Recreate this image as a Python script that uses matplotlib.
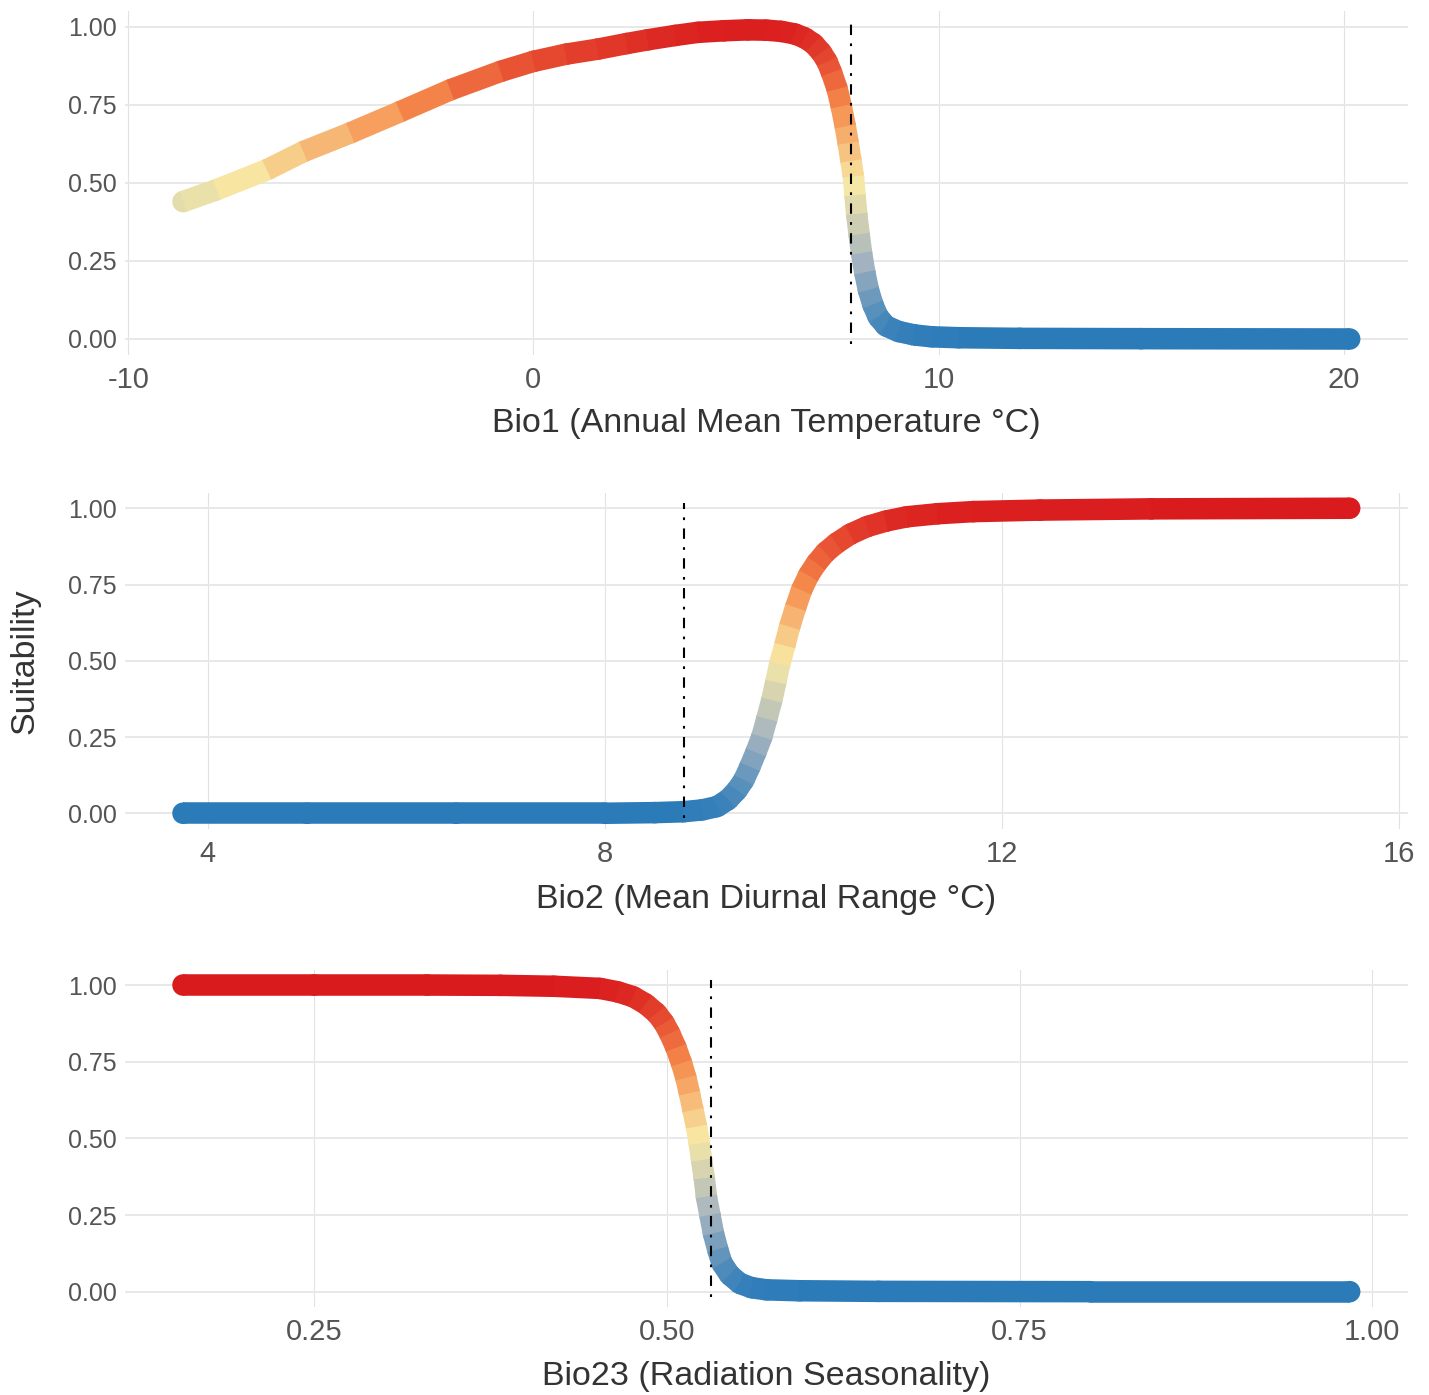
import numpy as np
import matplotlib
matplotlib.use("Agg")
import matplotlib.pyplot as plt
from matplotlib.collections import LineCollection
from matplotlib.colors import LinearSegmentedColormap

plt.rcParams['font.family'] = ['Liberation Sans', 'DejaVu Sans']

# ---------------- data ----------------
bio1_x = [-8.65, -7.82, -6.58, -5.68, -4.52, -3.29, -2.05, -0.81, 0.0, 0.8, 1.58,
          2.3, 2.82, 3.5, 4.06, 4.7, 5.30, 5.75, 6.12, 6.45, 6.70, 6.92, 7.11,
          7.25, 7.36, 7.50, 7.60, 7.70, 7.77, 7.84, 7.90, 7.94, 7.98, 8.04, 8.10,
          8.18, 8.27, 8.38, 8.51, 8.70, 9.01, 9.40, 9.83, 10.5, 12.0, 15.0, 20.15]
bio1_y = [0.44, 0.478, 0.542, 0.60, 0.66, 0.728, 0.798, 0.857, 0.889, 0.912, 0.928,
          0.946, 0.958, 0.972, 0.982, 0.987, 0.99, 0.989, 0.985, 0.977, 0.964, 0.945, 0.917,
          0.888, 0.853, 0.80, 0.745, 0.68, 0.627, 0.57, 0.52, 0.46, 0.40, 0.335, 0.275,
          0.213, 0.157, 0.11, 0.071, 0.042, 0.024, 0.013, 0.007, 0.004, 0.002, 0.001, 0.0]
bio1_threshold = 7.85

bio2_x = [3.75, 5.0, 6.5, 8.0, 8.5, 8.79, 8.98, 9.13, 9.24, 9.33, 9.40, 9.46, 9.52,
          9.58, 9.63, 9.68, 9.72, 9.76, 9.81, 9.86, 9.92, 9.98, 10.05, 10.13, 10.22,
          10.33, 10.47, 10.64, 10.83, 11.04, 11.35, 11.71, 12.38, 13.5, 15.5]
bio2_y = [0.0, 0.0, 0.0, 0.0, 0.002, 0.005, 0.011, 0.022, 0.045, 0.076, 0.11, 0.153, 0.20,
          0.251, 0.31, 0.371, 0.43, 0.49, 0.55, 0.612, 0.675, 0.732, 0.78, 0.82, 0.855,
          0.885, 0.915, 0.94, 0.958, 0.972, 0.982, 0.989, 0.994, 0.998, 1.0]
bio2_threshold = 8.80

bio23_x = [0.157, 0.25, 0.33, 0.382, 0.42, 0.4526, 0.465, 0.476, 0.485, 0.4927, 0.498,
           0.502, 0.5065, 0.5104, 0.5135, 0.516, 0.5185, 0.521, 0.523, 0.5246, 0.5265,
           0.528, 0.5305, 0.533, 0.536, 0.539, 0.5445, 0.5517, 0.5600, 0.5706, 0.594,
           0.65, 0.80, 0.984]
bio23_y = [1.0, 1.0, 1.0, 0.999, 0.996, 0.989, 0.978, 0.962, 0.938, 0.908, 0.876,
           0.842, 0.795, 0.745, 0.697, 0.647, 0.592, 0.538, 0.483, 0.429, 0.37,
           0.31, 0.25, 0.19, 0.138, 0.093, 0.055, 0.027, 0.013, 0.006, 0.003,
           0.001, 0.0, 0.0]
bio23_threshold = 0.531

bio1_ticks = [-10, 0, 10, 20]
bio1_ticklabels = ["-10", "0", "10", "20"]
bio2_ticks = [4, 8, 12, 16]
bio2_ticklabels = ["4", "8", "12", "16"]
bio23_ticks = [0.25, 0.50, 0.75, 1.00]
bio23_ticklabels = ["0.25", "0.50", "0.75", "1.00"]
y_ticks = [0.0, 0.25, 0.5, 0.75, 1.0]
y_ticklabels = ["0.00", "0.25", "0.50", "0.75", "1.00"]

xlabels = ["Bio1 (Annual Mean Temperature °C)",
           "Bio2 (Mean Diurnal Range °C)",
           "Bio23 (Radiation Seasonality)"]
ylabel = "Suitability"

# ---------------- styling ----------------
cmap = LinearSegmentedColormap.from_list(
    "suit", [(0.0, "#2C7BB9"), (0.25, "#A5B4C0"), (0.5, "#F8E9A4"),
             (0.75, "#F58A4B"), (1.0, "#DA1B1D")])
norm = plt.Normalize(0, 1)

W, H = 1429, 1395
fig = plt.figure(figsize=(W / 100, H / 100), dpi=100)


def rect(l, t, r, b):
    return [l / W, 1 - b / H, (r - l) / W, (b - t) / H]


panels = [
    (bio1_x, bio1_y, bio1_threshold, bio1_ticks, bio1_ticklabels, xlabels[0],
     rect(124.7, 11.1, 1408, 354.6), 432),
    (bio2_x, bio2_y, bio2_threshold, bio2_ticks, bio2_ticklabels, xlabels[1],
     rect(124.7, 493.0, 1408, 828.5), 908),
    (bio23_x, bio23_y, bio23_threshold, bio23_ticks, bio23_ticklabels, xlabels[2],
     rect(124.7, 969.7, 1408, 1307.0), 1385),
]

LW = 15.5  # band width in points

for xs, ys, thr, ticks, tlabels, xlab, r, base in panels:
    ax = fig.add_axes(r)
    xs = np.asarray(xs, float)
    ys = np.asarray(ys, float)
    span = xs.max() - xs.min()
    ax.set_xlim(xs.min() - 0.05 * span, xs.max() + 0.05 * span)
    ax.set_ylim(-0.05, 1.05)
    for s in ax.spines.values():
        s.set_visible(False)
    ax.set_xticks(ticks)
    ax.set_xticklabels(tlabels)
    ax.set_yticks(y_ticks)
    ax.set_yticklabels(y_ticklabels)
    ax.tick_params(axis='x', length=0, pad=8, labelsize=21, labelcolor='#555555')
    ax.tick_params(axis='y', length=0, pad=5.5, labelsize=18, labelcolor='#555555')
    for t in ticks:
        ax.axvline(t, color='#E2E2E2', lw=0.8, zorder=0)
    for t in y_ticks:
        ax.axhline(t, color='#E8E8E8', lw=1.4, zorder=0)

    # round joints / ends
    ax.scatter(xs, ys, s=LW ** 2, c=ys, cmap=cmap, norm=norm,
               edgecolors='none', zorder=1.5)

    pts = np.column_stack([xs, ys])
    segs = np.stack([pts[:-1], pts[1:]], axis=1)
    vals = (ys[:-1] + ys[1:]) / 2
    lc = LineCollection(segs, cmap=cmap, norm=norm,
                        linewidths=LW, capstyle='butt', joinstyle='round',
                        zorder=2)
    lc.set_array(vals)
    ax.add_collection(lc)

    ax.axvline(thr, ymin=0.03, ymax=0.97, color='black', lw=1.5,
               linestyle=(0, (1.3, 4, 5, 4)), zorder=3)

    cx = (r[0] + r[2] / 2)
    fig.text(cx, 1 - base / H, xlab, ha='center', va='baseline',
             fontsize=24.5, color='#333333')

fig.text(25 / W, 1 - 661 / H, ylabel, rotation=90, ha='center', va='center',
         fontsize=24.5, color='#333333')

fig.savefig("out.png", dpi=100)
